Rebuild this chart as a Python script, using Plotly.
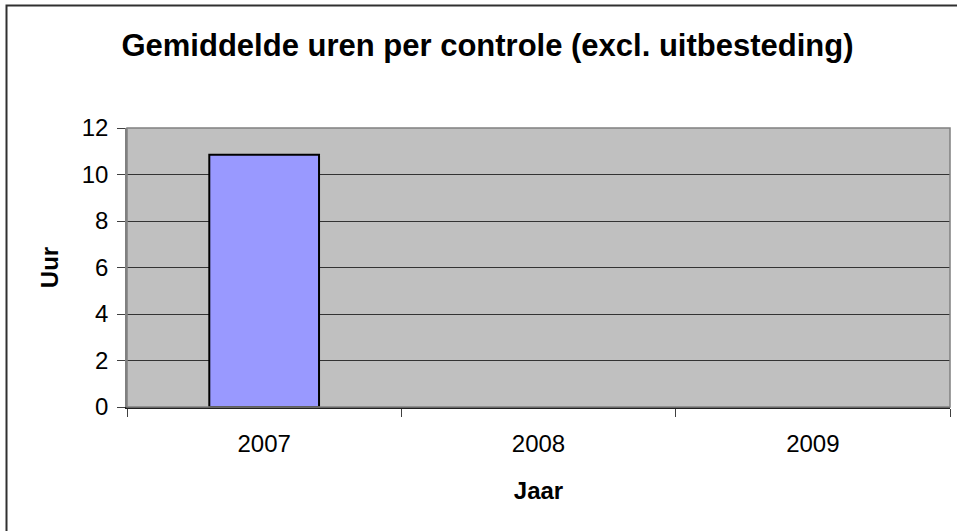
import plotly.graph_objects as go

years = ["2007", "2008", "2009"]
hours = [10.85, None, None]

W, H = 957, 531
L, R, T, B = 127, 7, 128, 124
PW, PH = W - L - R, H - T - B

fig = go.Figure()
fig.add_trace(go.Bar(
    x=years, y=hours, width=0.4,
    marker=dict(color="#9999FF", line=dict(color="black", width=2)),
))

font = "Liberation Sans, Arial, sans-serif"


def px_x(x):
    return (x - L) / PW


def px_y(y):
    return (H - B - y) / PH


fig.update_layout(
    width=W, height=H,
    margin=dict(l=L, r=R, t=T, b=B),
    paper_bgcolor="white", plot_bgcolor="#C0C0C0",
    showlegend=False,
    font=dict(family=font, color="black", size=24),
    title=dict(text="<b>Gemiddelde uren per controle (excl. uitbesteding)</b>",
               x=487.5 / W, xanchor="center", xref="container",
               y=1 - 45 / H, yanchor="middle", yref="container",
               font=dict(size=31, family=font)),
    xaxis=dict(type="category", tickson="boundaries", ticks="outside", ticklen=8,
               tickcolor="#404040", showgrid=False, showline=True, linecolor="#202020",
               linewidth=1.5, automargin=False, ticklabelstandoff=14,
               title=dict(text="<b>Jaar</b>", font=dict(size=24), standoff=27),
               tickfont=dict(size=24)),
    yaxis=dict(range=[0, 12], dtick=2, ticks="outside", ticklen=8, tickcolor="#404040",
               showgrid=True, gridcolor="#333333", gridwidth=1.2,
               showline=True, linecolor="#808080", linewidth=1.5, zeroline=False,
               automargin=False, ticklabelstandoff=4,
               title=dict(text="<b>Uur</b>", font=dict(size=24), standoff=16),
               tickfont=dict(size=24)),
    shapes=[
        dict(type="rect", xref="paper", yref="paper", x0=0, x1=1, y0=0, y1=1,
             line=dict(color="#808080", width=1.5), layer="above"),
        dict(type="rect", xref="paper", yref="paper",
             x0=px_x(6.5), x1=px_x(965),
             y0=px_y(540), y1=px_y(5.5),
             line=dict(color="#303030", width=2), layer="above"),
    ],
)

fig.write_html(
    "out.html",
    config={"displayModeBar": False},
    post_script="document.body.style.margin='0';document.body.style.overflow='hidden';",
)
